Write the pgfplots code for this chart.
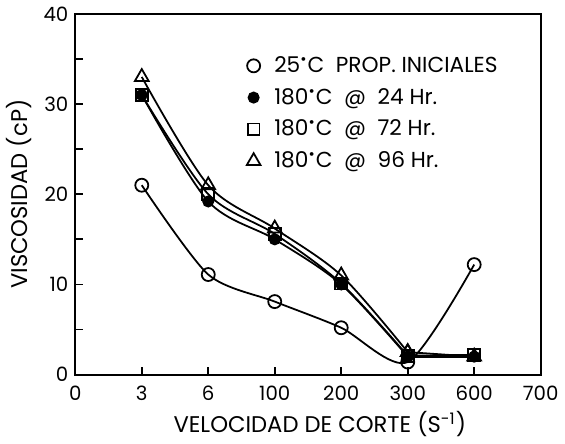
\documentclass[border=0pt]{standalone}
\usepackage{pgfplots}
\pgfplotsset{compat=1.18}
\usepackage{fontspec}
\setmainfont{Poppins}
\newcommand\dg{\textsuperscript{•}}

\begin{document}
\begin{tikzpicture}
\begin{axis}[
scale only axis,
width=236pt, height=183pt,
xmin=0, xmax=7, ymin=0, ymax=40,
xtick={0,1,2,3,4,5,6,7},
xticklabels={0,3,6,100,200,300,600,700},
ytick={0,5,...,40},
yticklabels={0,,10,,20,,30,,40},
tick pos=left,
tick align=inside,
major tick length=4pt,
axis line style={line width=1pt},
tick style={line width=0.9pt, black},
/pgf/number format/assume math mode=true,
tick label style={font=\fontsize{10}{12}\selectfont},
xticklabel style={yshift=-2pt},
xlabel={VELOCIDAD DE CORTE (S\textsuperscript{-1})},
ylabel={VISCOSIDAD (cP)},
label style={font=\fontsize{11.5}{13}\selectfont},
xlabel style={yshift=1pt, xshift=6pt},
ylabel style={yshift=-1pt},
legend style={draw=none, fill=none, at={(0.355,0.905)}, anchor=north west,
  font=\fontsize{11}{13}\selectfont, row sep=2.5pt, cells={anchor=west}},
every axis plot/.append style={line width=0.9pt, black},
]
\addlegendimage{only marks, mark=o, mark size=3.3pt, line width=0.9pt}
\addlegendentry{\hspace{5pt}25\dg C\ \ PROP. INICIALES}
\addlegendimage{only marks, mark=*, mark size=2.6pt}
\addlegendentry{\hspace{5pt}180\dg C\ \ @\ \ 24 Hr.}
\addlegendimage{only marks, mark=square, mark size=3pt, line width=0.9pt}
\addlegendentry{\hspace{5pt}180\dg C\ \ @\ \ 72 Hr.}
\addlegendimage{only marks, mark=triangle, mark size=4pt, line width=0.9pt}
\addlegendentry{\hspace{5pt}180\dg C\ \ @\ \ 96 Hr.}

% 25 C initial properties
\addplot[smooth, tension=0.45, mark=o, mark size=3.3pt, mark options={fill=white}, forget plot]
coordinates {(1,21) (2,11.1) (3,8.1) (4,5.2) (5,1.4) (6,12.2)};

% 180 C @ 24 Hr
\addplot[smooth, tension=0.5, mark=*, mark size=2.6pt, forget plot]
coordinates {(1,31) (2,19.2) (3,15) (4,10) (5,2)};
\addplot[mark=*, mark size=2.6pt, forget plot]
coordinates {(5,2) (6,2)};

% 180 C @ 72 Hr
\addplot[smooth, tension=0.5, mark=square, mark size=3pt, mark options={fill=white}, forget plot]
coordinates {(1,31) (2,20) (3,15.6) (4,10.1) (5,2.1)};
\addplot[mark=square, mark size=3pt, mark options={fill=white}, forget plot]
coordinates {(5,2.1) (6,2.2)};

% 180 C @ 96 Hr
\addplot[smooth, tension=0.5, mark=triangle, mark size=4pt, mark options={fill=white}, forget plot]
coordinates {(1,33) (2,21) (3,16.2) (4,11) (5,2.5)};
\addplot[mark=triangle, mark size=4pt, mark options={fill=white}, forget plot]
coordinates {(5,2.5) (6,2)};
\end{axis}
\end{tikzpicture}
\end{document}
